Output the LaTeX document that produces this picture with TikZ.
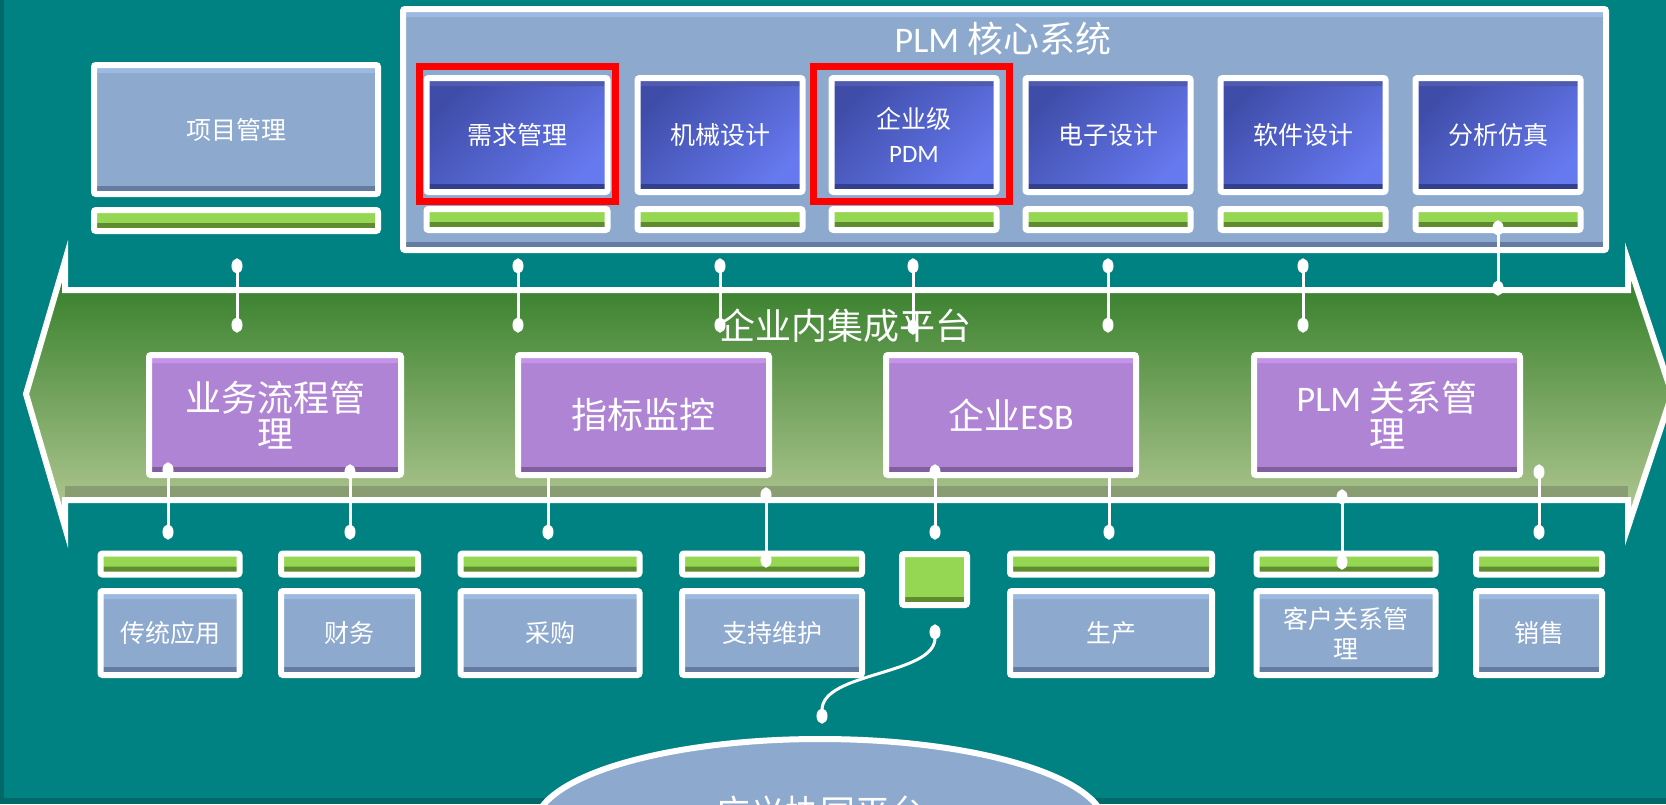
\documentclass[tikz,border=0pt]{standalone}
\usepackage{fontspec}
\setmainfont{Carlito}
\newfontfamily\cjk{Noto Sans CJK SC}
\usetikzlibrary{arrows.meta}
\usetikzlibrary{shapes.geometric}

\definecolor{slide}{HTML}{008282}
\definecolor{slideedge}{HTML}{006868}
\definecolor{steel}{HTML}{8DA9CE}
\definecolor{steeltop}{HTML}{9CB9E2}
\definecolor{steelbot}{HTML}{637C9F}
\definecolor{coredark}{HTML}{3F4DA9}
\definecolor{corelight}{HTML}{6679EF}
\definecolor{corebot}{HTML}{33408C}
\definecolor{lilac}{HTML}{B084D4}
\definecolor{lilactop}{HTML}{C594E9}
\definecolor{lilacbot}{HTML}{7F5F9D}
\definecolor{leaf}{HTML}{95D653}
\definecolor{leafbot}{HTML}{5E8C2F}
\definecolor{busdark}{HTML}{2D7A23}
\definecolor{buslight}{HTML}{B7CB97}
\definecolor{busedge}{HTML}{8A9D72}

\tikzset{
  frame/.style={draw=white, line width=6pt, rounded corners=2pt, inner sep=0pt,
    text=white, align=center},
  boxsize/.style 2 args={minimum width=#1pt, minimum height=#2pt},
  bevel/.style 2 args={path picture={
      \fill[#1] (path picture bounding box.north west) rectangle
        ([yshift=-8pt]path picture bounding box.north east);
      \fill[#2] (path picture bounding box.south west) rectangle
        ([yshift=8pt]path picture bounding box.south east);}},
  plain/.style={frame, fill=steel, bevel={steeltop}{steelbot},
    font=\fontsize{25}{30}\selectfont\cjk},
  core/.style={frame, top color=coredark, bottom color=corelight, shading angle=45,
    bevel={coredark!92!white}{corebot}, font=\fontsize{25}{34}\selectfont\cjk},
  bar/.style={frame, fill=leaf, bevel={leaf}{leafbot}},
  lilacbox/.style={frame, fill=lilac, bevel={lilactop}{lilacbot},
    font=\fontsize{36}{36}\selectfont\cjk},
  hilite/.style={draw=red, line width=7pt, inner sep=0pt},
  bigtext/.style={text=white, inner sep=0pt, font=\fontsize{36}{40}\selectfont\cjk},
  bus/.style={draw=white, line width=6pt, top color=busdark, bottom color=buslight,
    middle color=busdark!50!buslight},
  link/.style={white, line width=3pt, >={Ellipse[length=15pt,width=11pt]}, <->,
    shorten <=-7.5pt, shorten >=-7.5pt}
}

\begin{document}
\begin{tikzpicture}[x=1pt, y=-1pt]
    \useasboundingbox (0,0) rectangle (1666,804);
    \clip (0,0) rectangle (1666,804);
    \fill[slide] (0,0) rectangle (1666,804);
    \fill[slideedge] (0,0) rectangle (4,804);
    \fill[slideedge] (0,798) rectangle (1666,804);

    % PLM core system
    \node[plain, boxsize={1203}{241}] (plm) at (1004.5,129.5) {};
    \node[bigtext] (plmtitle) at (1003,39) {\rmfamily PLM \cjk 核心系统};
    \foreach \n/\x/\w/\t in {req/517/181/需求管理, mech/720/165/机械设计,
        pdm/914/165/{企业级\\\rmfamily PDM}, elec/1108/165/电子设计,
        soft/1303/165/软件设计, sim/1498/165/分析仿真} {
        \node[core, boxsize={\w}{114}] (\n) at (\x,135) {\t};
        \node[bar, boxsize={\w}{21}] (\n bar) at (\x,219.5) {};
    }
    \node[hilite, boxsize={196}{135}] (reqmark) at (517.5,134) {};
    \node[hilite, boxsize={196}{135}] (pdmmark) at (911,134) {};

    \node[plain, boxsize={284}{129}] (proj) at (236,129.5) {项目管理};
    \node[bar, boxsize={284}{21}] (proj bar) at (236,220.5) {};

    % integration bus
    \draw[bus, path picture={\fill[busedge] (65,486) rectangle (1628,497);}]
        (26,394) -- (65,261) -- (65,290) -- (1628,290) -- (1628,261)
        -- (1672,394) -- (1628,527) -- (1628,500) -- (65,500) -- (65,527) -- cycle;
    \node[bigtext] (busname) at (845,326) {企业内集成平台};

    \foreach \x/\ya/\yb [count=\i] in {237/266/325, 518/266/325, 720/266/325,
        913/266/327, 1108/266/325, 1303/266/325, 1498/228/288} {
        \coordinate (up\i) at (\x,\ya);
        \coordinate (dn\i) at (\x,\yb);
        \draw[link] (up\i) -- (dn\i);
    }
    \foreach \x [count=\i] in {548, 1109} {
        \coordinate (in\i) at (\x,466);
        \coordinate (out\i) at (\x,532);
        \draw[link] (in\i) -- (out\i);
    }

    \foreach \n/\x/\w/\t in {bpm/275/252/{业务流程管\\理}, kpi/643.5/251/指标监控,
        esb/1011/250/{企业\rmfamily ESB}, rel/1387/266/{\rmfamily PLM \cjk 关系管\\理}} {
        \node[lilacbox, boxsize={\w}{120}] (\n) at (\x,415) {\t};
    }

    % applications
    \foreach \n/\x/\w/\t in {old/170/139/传统应用, fin/349.5/137/财务,
        buy/550/179/采购, svc/772/180/支持维护, mfg/1111/202/生产,
        cust/1346/179/{客户关系管\\理}, sale/1539/126/销售} {
        \node[bar, boxsize={\w}{21}] (\n bar) at (\x,564) {};
        \node[plain, boxsize={\w}{84}] (\n) at (\x,633) {\t};
    }
    \node[bar, boxsize={65}{51}] (hub) at (934.5,579.5) {};

    \foreach \x/\ya/\yb [count=\i] in {168/470/532, 350/472/532, 766/495/560,
        935/472/532, 1342/497/562, 1539/472/532} {
        \coordinate (top\i) at (\x,\ya);
        \coordinate (bot\i) at (\x,\yb);
        \draw[link] (top\i) -- (bot\i);
    }

    % collaboration platform
    \node[frame, ellipse, fill=steel, boxsize={570}{174}] (cowork) at (820,826) {};
    \node[bigtext, font=\fontsize{35}{40}\selectfont\cjk] (coworkname) at (820,812) {广义协同平台};
    \coordinate (hubpin) at (935,632);
    \coordinate (coworkpin) at (822,716);
    \draw[link] (hubpin) .. controls (935,675) and (822,672) .. (coworkpin);
\end{tikzpicture}
\end{document}
